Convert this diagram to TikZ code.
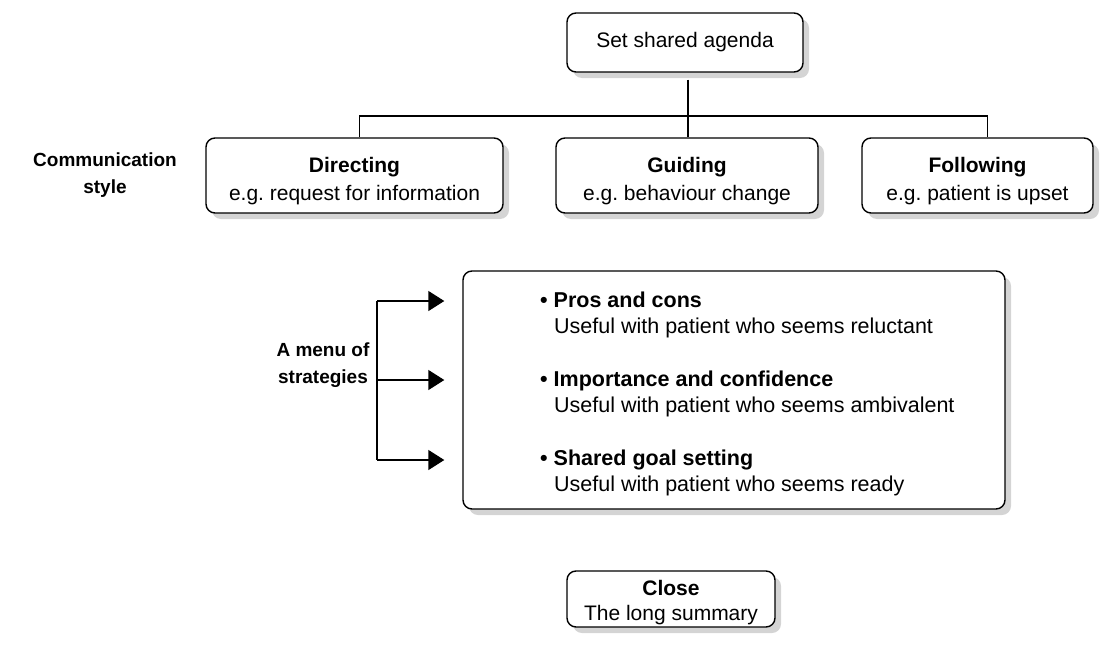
\documentclass[tikz,border=0pt]{standalone}
\usepackage{fontspec}
\setmainfont{Liberation Sans}
\usetikzlibrary{arrows.meta,shadows}

\tikzset{
  card/.style={draw, line width=1.4pt, rounded corners=9pt, fill=white,
    align=center, inner sep=0pt,
    drop shadow={shadow xshift=6pt, shadow yshift=-6pt, fill=black!17, opacity=1}},
  lbl/.style={align=center, font=\fontsize{19}{27}\selectfont\bfseries},
  link/.style={line width=1.4pt},
}

\begin{document}
\frenchspacing
\begin{tikzpicture}[x=1pt,y=-1pt,font=\fontsize{21}{28}\selectfont]
  \useasboundingbox (0,0) rectangle (1112,648);
  % top of the tree
  \node[card, minimum width=236pt, minimum height=59pt] (agenda) at (685,42.5) {Set shared agenda};
  \node[card, minimum width=297pt, minimum height=75pt] (directing) at (354.5,175.5)
    {\rule{0pt}{26pt}\textbf{Directing}\\e.g. request for information};
  \node[card, minimum width=262pt, minimum height=75pt] (guiding) at (687,175.5)
    {\rule{0pt}{26pt}\textbf{Guiding}\\e.g. behaviour change};
  \node[card, minimum width=231pt, minimum height=75pt] (following) at (977.5,175.5)
    {\rule{0pt}{26pt}\textbf{Following}\\e.g. patient is upset};
  \node[lbl] (style) at (105,175) {Communication\\style};
  \coordinate (bar) at (688,116);
  \draw[link] ([yshift=-7pt]agenda.south -| bar) -- (bar |- guiding.north);
  \draw[link] ([xshift=5pt]directing.north) |- (bar) -| ([xshift=10pt]following.north);

  % strategies
  \node[card, minimum width=542pt, minimum height=238pt] (menu) at (734,390) {};
  \node[anchor=north west, align=left, inner sep=0pt, font=\fontsize{21.5}{26}\selectfont] (tips) at (540,292)
    {\textbf{• Pros and cons}\\
     \hspace*{14pt}Useful with patient who seems reluctant\\[27pt]
     \textbf{• Importance and confidence}\\
     \hspace*{14pt}Useful with patient who seems ambivalent\\[27pt]
     \textbf{• Shared goal setting}\\
     \hspace*{14pt}Useful with patient who seems ready};
  \node[lbl] (menulbl) at (323,365) {A menu of\\strategies};
  \coordinate (top) at (377,301);
  \coordinate (mid) at (377,380);
  \coordinate (bot) at (377,460);
  \draw[link] (top) -- (bot);
  \foreach \p in {top,mid,bot}
    \draw[link,-{Triangle[length=16pt,width=20pt]}] (\p) -- ([xshift=-18pt]menu.west |- \p);

  % close
  \node[card, minimum width=208pt, minimum height=56pt] (close) at (671,599)
    {\rule{0pt}{22pt}\textbf{Close}\\[-3pt]The long summary};
\end{tikzpicture}
\end{document}
